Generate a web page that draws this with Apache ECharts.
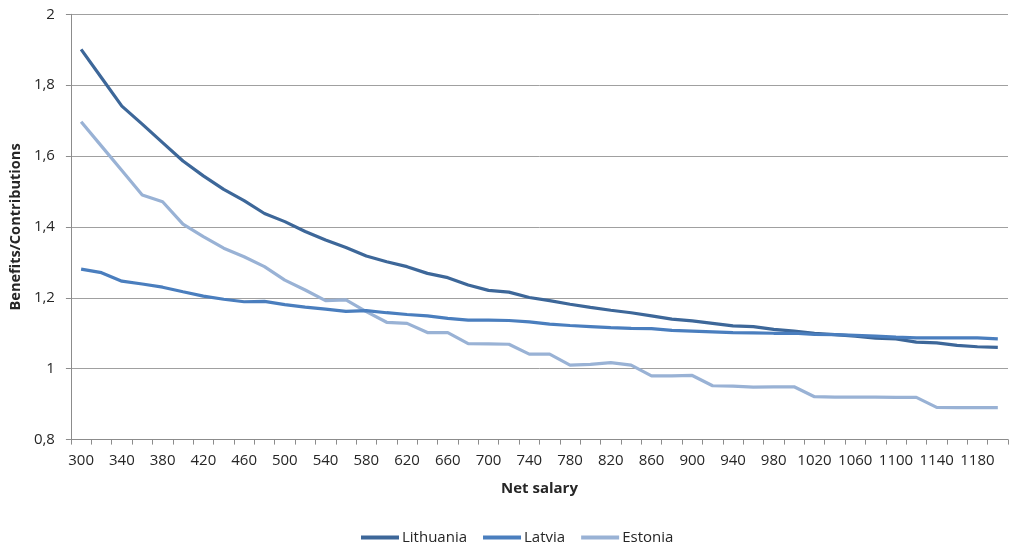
<!DOCTYPE html>
<html>
<head>
<meta charset="utf-8">
<script src="https://cdn.jsdelivr.net/npm/echarts@6/dist/echarts.min.js"></script>
<style>
html,body{margin:0;padding:0;background:#fff;}
#chart{width:1009px;height:545px;}
</style>
</head>
<body>
<div id="chart"></div>
<script>
var netSalary = ['300','320','340','360','380','400','420','440','460','480','500','520','540','560','580','600','620','640','660','680','700','720','740','760','780','800','820','840','860','880','900','920','940','960','980','1000','1020','1040','1060','1080','1100','1120','1140','1160','1180','1200'];

var lithuania = [1.901,1.821,1.741,1.690,1.638,1.586,1.544,1.506,1.474,1.438,1.415,1.387,1.363,1.342,1.318,1.302,1.288,1.269,1.257,1.236,1.221,1.216,1.201,1.192,1.182,1.173,1.165,1.158,1.149,1.140,1.135,1.128,1.121,1.119,1.111,1.106,1.100,1.096,1.092,1.086,1.084,1.075,1.073,1.066,1.062,1.060];
var latvia = [1.281,1.271,1.247,1.239,1.230,1.217,1.205,1.196,1.189,1.190,1.181,1.174,1.168,1.162,1.164,1.158,1.153,1.149,1.142,1.137,1.137,1.136,1.132,1.126,1.122,1.119,1.116,1.114,1.113,1.108,1.106,1.104,1.102,1.101,1.100,1.100,1.097,1.096,1.094,1.092,1.089,1.087,1.087,1.087,1.087,1.084];
var estonia = [1.697,1.628,1.559,1.490,1.471,1.408,1.373,1.340,1.316,1.288,1.250,1.222,1.192,1.194,1.161,1.131,1.128,1.102,1.102,1.071,1.070,1.069,1.041,1.041,1.010,1.012,1.017,1.010,0.980,0.980,0.981,0.952,0.951,0.948,0.949,0.949,0.921,0.920,0.920,0.920,0.919,0.919,0.891,0.890,0.890,0.890];

var yTicks = {min:0.8, max:2, interval:0.2};
var seriesNames = ['Lithuania','Latvia','Estonia'];
var colors = ['#3D6799','#4A7EBE','#99B2D5'];

var FONT = '"Open Sans", "Liberation Sans", sans-serif';
var chart = echarts.init(document.getElementById('chart'), null, {renderer:'canvas'});
var option = {
  animation: false,
  backgroundColor: '#ffffff',
  color: colors,
  textStyle: {fontFamily: FONT},
  grid: {left: 70, right: 1, top: 14.3, bottom: 105.4, containLabel: false},
  legend: {
    left: 356, bottom: -5,
    icon: 'rect', itemWidth: 38, itemHeight: 4, itemGap: 16,
    textStyle: {fontFamily: FONT, fontSize: 15, color: '#262626', padding:[0,0,0,-2]},
    data: seriesNames
  },
  xAxis: {
    type: 'category',
    data: netSalary,
    boundaryGap: true,
    name: 'Net salary',
    nameLocation: 'middle',
    nameGap: 42,
    nameTextStyle: {fontFamily: FONT, fontSize: 15, fontWeight: 'bold', color: '#262626'},
    axisLine: {lineStyle: {color: '#8C8C8C', width: 1}},
    axisTick: {show: true, interval: 0, length: 5, inside: false, lineStyle: {color: '#8C8C8C'}},
    axisLabel: {interval: 1, margin: 14, fontFamily: FONT, fontSize: 15, color: '#262626'},
    splitLine: {show: false}
  },
  yAxis: {
    type: 'value',
    min: yTicks.min, max: yTicks.max, interval: yTicks.interval,
    name: 'Benefits/Contributions',
    nameLocation: 'middle',
    nameGap: 46,
    nameRotate: 90,
    nameTextStyle: {fontFamily: FONT, fontSize: 14.6, fontWeight: 'bold', color: '#262626'},
    axisLine: {show: true, lineStyle: {color: '#8C8C8C', width: 1}},
    axisTick: {show: true, length: 5, lineStyle: {color: '#8C8C8C'}},
    axisLabel: {margin: 16, fontFamily: FONT, fontSize: 15, color: '#262626',
      formatter: function(v){ return (Math.round(v*10)/10).toString().replace('.', ','); }},
    splitLine: {show: true, lineStyle: {color: '#A0A0A0', width: 1}}
  },
  series: [
    {name: seriesNames[0], type: 'line', data: lithuania, showSymbol: false, symbol: 'none', lineStyle: {width: 3.2, color: colors[0]}, z: 3},
    {name: seriesNames[1], type: 'line', data: latvia, showSymbol: false, symbol: 'none', lineStyle: {width: 3.2, color: colors[1]}, z: 4},
    {name: seriesNames[2], type: 'line', data: estonia, showSymbol: false, symbol: 'none', lineStyle: {width: 3.2, color: colors[2]}, z: 2}
  ]
};
chart.setOption(option);
</script>
</body>
</html>
